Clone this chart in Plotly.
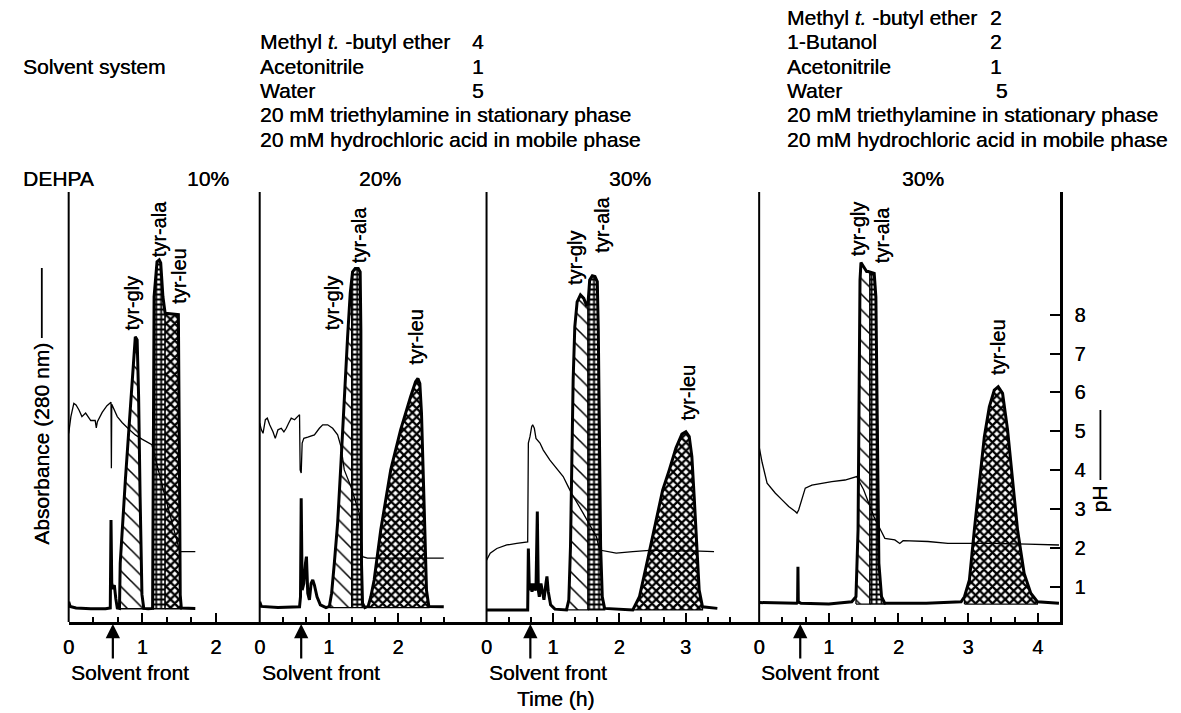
import numpy as np
import plotly.graph_objects as go

# ---------------- data ----------------
dehpa_pct = ["10%", "20%", "30%", "30%"]
major_ticks = [[0, 1, 2], [0, 1, 2], [0, 1, 2, 3], [0, 1, 2, 3, 4]]
minor_ticks = [[1/3, 2/3, 4/3, 5/3],
               [1/3, 2/3, 4/3, 5/3, 7/3, 8/3],
               [1/3, 2/3, 4/3, 5/3, 7/3, 8/3, 10/3, 11/3],
               [1/3, 2/3, 4/3, 5/3, 7/3, 8/3, 10/3, 11/3]]
solvent_front_h = [0.60, 0.60, 0.66, 0.59]
ph_tick_vals = [1, 2, 3, 4, 5, 6, 7, 8]
peak_names = ["tyr-gly", "tyr-ala", "tyr-leu"]

solvent_system_1 = [("Methyl <i>t.</i> -butyl ether", "4"), ("Acetonitrile", "1"), ("Water", "5"),
                    ("20 mM triethylamine in stationary phase", ""),
                    ("20 mM hydrochloric acid in mobile phase", "")]
solvent_system_2 = [("Methyl <i>t.</i> -butyl ether", "2"), ("1-Butanol", "2"), ("Acetonitrile", "1"),
                    ("Water", " 5"), ("20 mM triethylamine in stationary phase", ""),
                    ("20 mM hydrochloric acid in mobile phase", "")]

# panel 1 (10% DEHPA)
p1_abs_t = [0.00, 0.02, 0.10, 0.30, 0.50, 0.565, 0.575, 0.585, 0.60, 0.62, 0.64, 0.66, 0.69, 0.70, 0.77,
            0.84, 0.88, 0.905, 0.93, 0.95, 0.97, 0.995, 1.02, 1.08, 1.14, 1.15, 1.16, 1.20, 1.23, 1.25,
            1.28, 1.31, 1.40, 1.49, 1.505, 1.515, 1.53, 1.60, 1.72]
p1_abs_y = [0.62, 0.50, 0.46, 0.44, 0.44, 0.46, 2.72, 1.10, 0.95, 1.05, 0.70, 0.46, 0.45, 1.61, 3.75,
            5.72, 6.92, 7.43, 7.35, 5.89, 3.32, 0.81, 0.45, 0.44, 0.45, 4.0, 8.46, 9.36, 9.41, 9.33,
            8.46, 8.04, 8.02, 8.00, 4.0, 0.8, 0.46, 0.45, 0.45]
p1_ph_t = [0.0, 0.03, 0.07, 0.10, 0.14, 0.18, 0.23, 0.30, 0.36, 0.375, 0.39, 0.455, 0.52, 0.575, 0.58,
           0.585, 0.66, 0.725, 0.815, 0.905, 0.995, 1.13, 1.31, 1.49, 1.51, 1.72]
p1_ph_y = [4.95, 5.38, 5.72, 5.68, 5.55, 5.38, 5.47, 5.28, 5.28, 5.09, 5.25, 5.49, 5.66, 5.75, 4.05,
           5.70, 5.38, 5.23, 5.06, 4.91, 4.80, 4.66, 3.32, 1.99, 1.91, 1.91]
p1_windows = [(0.69, 1.02), (1.14, 1.31), (1.31, 1.53)]

# panel 2 (20% DEHPA)
p2_abs_t = [0, 0.024, 0.264, 0.576, 0.59, 0.60, 0.614, 0.638, 0.662, 0.676, 0.695, 0.719, 0.743, 0.767,
            0.791, 0.829, 0.877, 0.959, 1.007, 1.04, 1.079, 1.127, 1.175, 1.223, 1.271, 1.309, 1.343,
            1.381, 1.425, 1.453, 1.463, 1.467, 1.472, 1.487, 1.52, 1.568, 1.607, 1.655, 1.751, 1.895,
            2.038, 2.182, 2.254, 2.288, 2.316, 2.34, 2.364, 2.388, 2.412, 2.446, 2.662]
p2_abs_y = [0.62, 0.5, 0.47, 0.49, 0.75, 3.28, 0.92, 1.09, 1.61, 1.78, 0.84, 0.67, 1.09, 1.18, 1.05,
            0.75, 0.54, 0.47, 0.5, 0.84, 1.61, 2.64, 4.18, 5.89, 7.43, 8.55, 9.10, 9.19, 9.19, 9.10,
            7.6, 4.18, 1.61, 0.58, 0.47, 0.5, 0.75, 1.18, 2.47, 4.01, 5.04, 5.89, 6.28, 6.36, 6.23,
            5.46, 4.18, 2.47, 0.92, 0.5, 0.49]
p2_ph_t = [0, 0.024, 0.048, 0.082, 0.11, 0.144, 0.192, 0.225, 0.264, 0.312, 0.35, 0.384, 0.418, 0.456,
           0.504, 0.542, 0.576, 0.585, 0.60, 0.614, 0.638, 0.695, 0.791, 0.863, 0.911, 0.983, 1.055,
           1.127, 1.175, 1.223, 1.319, 1.439, 1.487, 1.559, 2.662]
p2_ph_y = [5.21, 5.04, 4.95, 5.30, 5.34, 5.17, 4.99, 4.82, 5.04, 5.08, 4.99, 5.08, 5.21, 5.34, 5.30,
           5.38, 5.43, 4.01, 3.93, 4.70, 4.82, 4.85, 4.91, 5.08, 5.17, 5.17, 5.08, 4.91, 4.61, 4.01,
           3.58, 2.90, 1.78, 1.74, 1.74]
p2_windows = [(1.007, 1.33), (1.33, 1.49), (1.568, 2.446)]

# panel 3 (30% DEHPA)
p3_abs_t = [0.0, 0.305, 0.62, 0.63, 0.645, 0.665, 0.685, 0.705, 0.73, 0.745, 0.765, 0.78, 0.795, 0.82,
            0.845, 0.865, 0.895, 0.91, 0.93, 0.965, 1.03, 1.205, 1.24, 1.265, 1.285, 1.305, 1.33, 1.365,
            1.415, 1.465, 1.504, 1.529, 1.554, 1.594, 1.634, 1.669, 1.684, 1.699, 1.719, 1.744, 1.779,
            2.204, 2.304, 2.404, 2.529, 2.654, 2.754, 2.854, 2.944, 3.004, 3.054, 3.094, 3.129, 3.164,
            3.204, 3.254, 3.478]
p3_abs_y = [0.41, 0.41, 0.41, 1.99, 0.92, 1.09, 0.88, 1.09, 0.92, 0.96, 2.94, 0.92, 0.75, 1.09, 0.80,
            0.67, 1.09, 1.27, 0.88, 0.54, 0.43, 0.41, 0.67, 2.04, 4.18, 6.32, 7.69, 8.33, 8.51, 8.42,
            8.25, 8.29, 8.89, 9.00, 8.98, 8.85, 7.6, 5.04, 2.04, 0.75, 0.45, 0.41, 0.75, 1.52, 2.47,
            3.49, 4.01, 4.57, 4.93, 4.99, 4.87, 4.35, 3.32, 2.04, 0.92, 0.49, 0.45]
p3_ph_t = [0, 0.055, 0.155, 0.305, 0.455, 0.62, 0.63, 0.655, 0.68, 0.695, 0.72, 0.745, 0.805, 0.855,
           0.955, 1.055, 1.155, 1.23, 1.28, 1.455, 1.654, 1.704, 1.804, 1.954, 2.204, 2.504, 2.804,
           3.104, 3.428]
p3_ph_y = [1.69, 1.87, 1.99, 2.08, 2.12, 2.16, 4.70, 4.87, 5.12, 5.17, 5.08, 4.82, 4.70, 4.52, 4.26,
           4.05, 3.84, 3.58, 3.41, 2.90, 2.30, 1.95, 1.91, 1.87, 1.91, 1.95, 1.93, 1.93, 1.91]
p3_windows = [(1.205, 1.529), (1.529, 1.779), (2.204, 3.254)]

# panel 4 (30% DEHPA, butanol system)
p4_abs_t = [0, 0.3, 0.54, 0.552, 0.557, 0.562, 0.6, 1.0, 1.33, 1.39, 1.42, 1.438, 1.448, 1.462, 1.495,
            1.543, 1.567, 1.652, 1.676, 1.7, 1.719, 1.757, 1.805, 2.4, 2.9, 2.948, 3.019, 3.09, 3.162,
            3.233, 3.305, 3.376, 3.433, 3.495, 3.567, 3.638, 3.71, 3.805, 3.9, 3.995, 4.305]
p4_abs_y = [0.6, 0.58, 0.58, 0.6, 1.52, 0.62, 0.58, 0.56, 0.62, 0.75, 2.47, 5.89, 8.89, 9.34, 9.24,
            9.11, 9.11, 9.06, 8.46, 5.04, 1.61, 0.75, 0.58, 0.58, 0.62, 0.75, 1.18, 2.47, 3.75, 4.86,
            5.63, 6.06, 6.15, 5.98, 5.04, 3.75, 2.47, 1.35, 0.84, 0.62, 0.58]
p4_ph_t = [0, 0.043, 0.114, 0.233, 0.329, 0.424, 0.519, 0.543, 0.567, 0.662, 0.757, 0.9, 1.043, 1.233,
           1.4, 1.5, 1.65, 1.757, 1.805, 1.948, 2.0, 2.019, 2.067, 2.424, 2.71, 2.995, 3.376, 3.853, 4.305]
p4_ph_y = [4.6, 4.2, 3.67, 3.41, 3.24, 3.07, 2.94, 2.90, 2.98, 3.54, 3.62, 3.67, 3.71, 3.75, 3.84,
           3.5, 2.8, 2.42, 2.25, 2.21, 2.14, 2.12, 2.19, 2.17, 2.12, 2.12, 2.12, 2.10, 2.08]
p4_windows = [(1.39, 1.59), (1.59, 1.805), (2.948, 3.995)]

panels = [
    dict(abs_t=p1_abs_t, abs_y=p1_abs_y, ph_t=p1_ph_t, ph_y=p1_ph_y, win=p1_windows),
    dict(abs_t=p2_abs_t, abs_y=p2_abs_y, ph_t=p2_ph_t, ph_y=p2_ph_y, win=p2_windows),
    dict(abs_t=p3_abs_t, abs_y=p3_abs_y, ph_t=p3_ph_t, ph_y=p3_ph_y, win=p3_windows),
    dict(abs_t=p4_abs_t, abs_y=p4_abs_y, ph_t=p4_ph_t, ph_y=p4_ph_y, win=p4_windows),
]

# ---------------- layout geometry (pixels) ----------------
W, H = 1181, 713
FONT = "Liberation Sans, Arial, Helvetica, sans-serif"
FS = 21
SHADOW = "0.3px 0 0 #000"
panel_px = [(63, 255, 74.0), (255, 483, 69.5), (483, 757, 66.7), (757, 1059, 70.0)]  # left, right, px per h
Y_BOT, Y_TOP, PX_PER_UNIT, Y_MIN = 622, 192, 38.9, 0.1
Y_MAX = Y_MIN + (Y_BOT - Y_TOP) / PX_PER_UNIT


def fx(px):
    return px / W


def fy(py):
    return 1 - py / H


def peak_polygon(t, y, t0, t1, base):
    t = np.asarray(t, float)
    y = np.asarray(y, float)
    inner = (t > t0) & (t < t1)
    y0 = float(np.interp(t0, t, y))
    y1 = float(np.interp(t1, t, y))
    xs = [t0, t0] + list(t[inner]) + [t1, t1, t0]
    ys = [base, y0] + list(y[inner]) + [y1, base, base]
    return xs, ys


patterns = [
    dict(shape="\\", fgcolor="black", bgcolor="white", size=11, solidity=0.14, fillmode="replace"),
    dict(shape="+", fgcolor="black", bgcolor="white", size=5, solidity=0.6, fillmode="replace"),
    dict(shape="x", fgcolor="black", bgcolor="white", size=6, solidity=0.62, fillmode="replace"),
]

axis_ids = ["x", "x2", "x3", "x4"]
fig = go.Figure()
for i, P in enumerate(panels):
    xa = axis_ids[i]
    base = min(P["abs_y"])
    for (t0, t1), pat in zip(P["win"], patterns):
        xs, ys = peak_polygon(P["abs_t"], P["abs_y"], t0, t1, base)
        fig.add_trace(go.Scatter(x=xs, y=ys, xaxis=xa, yaxis="y", mode="lines", fill="toself",
                                 fillcolor="white", fillpattern=pat,
                                 line=dict(color="black", width=1.3), hoverinfo="skip"))
    fig.add_trace(go.Scatter(x=P["abs_t"], y=P["abs_y"], xaxis=xa, yaxis="y", mode="lines",
                             line=dict(color="black", width=3), hoverinfo="skip"))
    fig.add_trace(go.Scatter(x=P["ph_t"], y=P["ph_y"], xaxis=xa, yaxis="y", mode="lines",
                             line=dict(color="black", width=1.3), hoverinfo="skip"))

tickfont = dict(family=FONT, size=20, color="black", shadow=SHADOW)
layout = dict(width=W, height=H, margin=dict(l=0, r=0, t=0, b=0), showlegend=False,
              paper_bgcolor="white", plot_bgcolor="white",
              font=dict(family=FONT, size=FS, color="black"))
for i, (l, r, s) in enumerate(panel_px):
    key = "xaxis" if i == 0 else f"xaxis{i + 1}"
    layout[key] = dict(domain=[fx(l), fx(r)], range=[0, (r - l) / s], anchor="y",
                       showline=True, linecolor="black", linewidth=2.8,
                       ticks="inside", ticklen=9, tickwidth=2, tickcolor="black",
                       tickvals=major_ticks[i], ticktext=[str(v) for v in major_ticks[i]],
                       tickfont=tickfont, ticklabelstandoff=5,
                       minor=dict(tickvals=minor_ticks[i], ticks="inside", ticklen=5,
                                  tickwidth=1.6, tickcolor="black", showgrid=False),
                       showgrid=False, zeroline=False)
layout["yaxis"] = dict(domain=[fy(Y_BOT), fy(Y_TOP)], range=[Y_MIN, Y_MAX], anchor="x4", side="right",
                       showline=True, linecolor="black", linewidth=2.8, ticks="inside", ticklen=10,
                       tickwidth=2, tickcolor="black", tickvals=ph_tick_vals,
                       tickfont=tickfont, ticklabelstandoff=8, showgrid=False, zeroline=False)

shapes = [dict(type="line", xref="paper", yref="paper", x0=fx(l), x1=fx(l), y0=fy(Y_BOT), y1=fy(Y_TOP),
               line=dict(color="black", width=2)) for (l, r, s) in panel_px]
# rules that extend the two axis titles
shapes.append(dict(type="line", xref="paper", yref="paper", x0=fx(36), x1=fx(36), y0=fy(338), y1=fy(268),
                   line=dict(color="black", width=1.8)))
shapes.append(dict(type="line", xref="paper", yref="paper", x0=fx(1100), x1=fx(1100), y0=fy(480),
                   y1=fy(410), line=dict(color="black", width=1.8)))
layout["shapes"] = shapes

ann = []


def text(x, y, s, xanchor="left", angle=0, size=FS, xref="paper", yref="paper"):
    ann.append(dict(x=x, y=y, xref=xref, yref=yref, text=s, showarrow=False, xanchor=xanchor,
                    yanchor="middle", textangle=angle,
                    font=dict(family=FONT, size=size, color="black", shadow=SHADOW)))


# header block
rows_y = [17, 41.5, 66, 90.5, 115, 139.5]
text(fx(15), fy(rows_y[2]), "Solvent system")
for k, (lab, num) in enumerate(solvent_system_1):
    text(fx(253), fy(rows_y[k + 1]), lab)
    if num:
        text(fx(466), fy(rows_y[k + 1]), num)
for k, (lab, num) in enumerate(solvent_system_2):
    text(fx(783), fy(rows_y[k]), lab)
    if num:
        text(fx(987), fy(rows_y[k]), num)

# DEHPA row
text(fx(15), fy(178), "DEHPA")
for cx, pct in zip([203, 376, 627, 922], dehpa_pct):
    text(fx(cx), fy(178), pct, xanchor="center")

# peak labels (time h, value) per panel
label_pos = [
    [(0.865, 8.3), (1.23, 10.2), (1.50, 9.0)],
    [(1.05, 8.3), (1.44, 10.05), (2.26, 7.43)],
    [(1.33, 9.45), (1.75, 10.3), (3.03, 5.99)],
    [(1.42, 10.2), (1.77, 10.05), (3.43, 7.17)],
]
for i, labs in enumerate(label_pos):
    for name, (t, v) in zip(peak_names, labs):
        text(t, v, name, xanchor="center", angle=-90, size=20, xref=axis_ids[i], yref="y")

# solvent front arrows and labels
for i, t in enumerate(solvent_front_h):
    ann.append(dict(x=t, y=fy(624), xref=axis_ids[i], yref="paper", text="", showarrow=True,
                    ax=0, ay=36, arrowhead=2, arrowsize=1.3, arrowwidth=2.2, arrowcolor="black",
                    standoff=0))
    text(0, fy(672), "Solvent front", xanchor="left", xref=axis_ids[i])

text(fx(552), fy(698), "Time (h)", xanchor="center")
text(fx(35), fy(444), "Absorbance (280 nm)", xanchor="center", angle=-90)
text(fx(1100), fy(499), "pH", xanchor="center", angle=-90)

layout["annotations"] = ann
fig.update_layout(**layout)
fig.write_html("out.html")
